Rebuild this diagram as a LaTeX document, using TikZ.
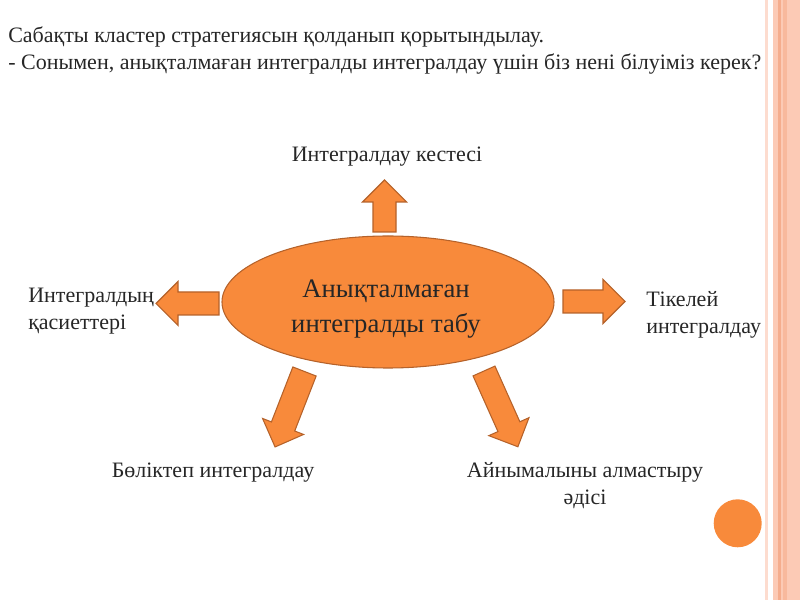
\documentclass[tikz,border=0pt]{standalone}
\usepackage{fontspec}
\setmainfont{Liberation Serif}
\usetikzlibrary{shapes.geometric,positioning}

\definecolor{slideorange}{HTML}{F88A3B}
\definecolor{slideedge}{HTML}{B5622A}
\definecolor{stripelight}{HTML}{FDDCCF}
\definecolor{stripepink}{HTML}{FCCAB5}
\definecolor{stripedark}{HTML}{F5AD8D}
\definecolor{inktext}{HTML}{262626}

\tikzset{
  clustertext/.style={text=inktext, inner sep=0pt, font=\fontsize{16.5pt}{20.25pt}\selectfont},
  arrowshape/.style={draw=slideedge, fill=slideorange, line width=0.8pt, line join=miter},
}

% tail point, direction, length, half width of the shaft
\newcommand{\clusterarrow}[4]{%
  \draw[arrowshape, shift={#1}, rotate=#2]
    (0,-#4) -- ({#3-22},-#4) -- ({#3-22},-22) -- (#3,0)
    -- ({#3-22},22) -- ({#3-22},#4) -- (0,#4) -- cycle;}

\begin{document}
\begin{tikzpicture}[x=0.75pt, y=0.75pt]
  \useasboundingbox (0,0) rectangle (800,600);

  % side stripe and dot
  \fill[stripelight] (765,0) rectangle (768,600);
  \fill[stripepink] (773,0) rectangle (800,600);
  \fill[stripedark] (778.3,0) rectangle (780.7,600);
  \fill[stripedark!60!stripepink] (783.3,0) rectangle (786.7,600);
  \fill[slideorange] (737.7,76.7) circle (24);

  % question (base = last line)
  \node[clustertext, anchor=base west, align=left] (question) at (8,530)
    {Сабақты кластер стратегиясын қолданып қорытындылау.\\
     - Сонымен, анықталмаған интегралды интегралдау үшін біз нені білуіміз керек?};

  % arrows out of the centre
  \clusterarrow{(384.5,368)}{90}{52}{11.5}
  \clusterarrow{(219,296.5)}{180}{63}{11.5}
  \clusterarrow{(563,298.5)}{0}{62}{11.5}
  \clusterarrow{(304.5,228.5)}{248.7}{81}{12.5}
  \clusterarrow{(484,229)}{294.1}{83}{12}

  % centre
  \node[ellipse, draw=slideedge, fill=slideorange, line width=0.8pt,
        minimum width=249pt, minimum height=99pt, inner sep=0pt] (core) at (388,298) {};
  \node[clustertext, font=\fontsize{20pt}{26.25pt}\selectfont, align=center, anchor=base]
    (coretext) at (386,267) {Анықталмаған\\интегралды табу};

  % branches
  \node[clustertext, anchor=base] (table) at (387,438) {Интегралдау кестесі};
  \node[clustertext, anchor=base west, align=left] (props) at (28,270)
    {Интегралдың\\қасиеттері};
  \node[clustertext, anchor=base west, align=left] (direct) at (646,266)
    {Тікелей\\интегралдау};
  \node[clustertext, anchor=base] (parts) at (213,122) {Бөліктеп интегралдау};
  \node[clustertext, anchor=base, align=center] (subst) at (585,95)
    {Айнымалыны алмастыру\\әдісі};
\end{tikzpicture}
\end{document}
